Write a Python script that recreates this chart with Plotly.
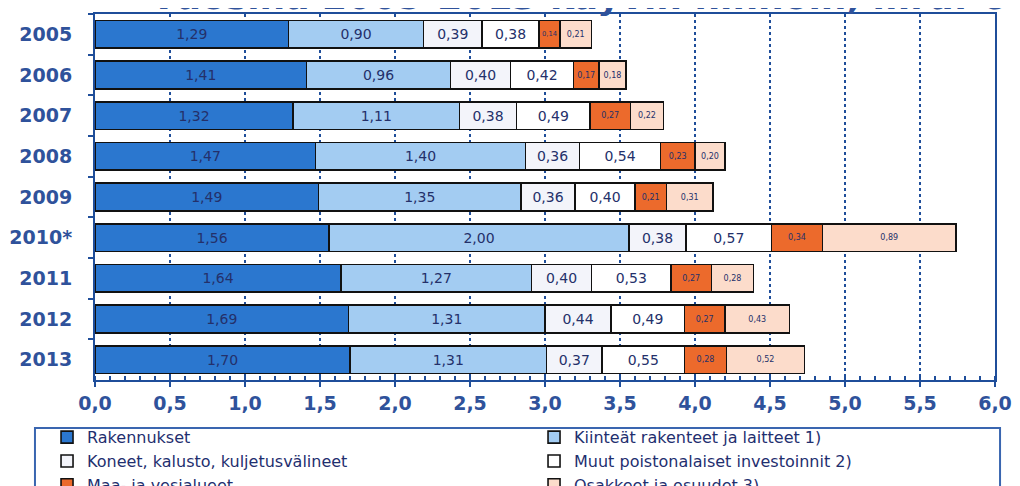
import plotly.graph_objects as go

years = ["2005", "2006", "2007", "2008", "2009", "2010*", "2011", "2012", "2013"]
rakennukset = [1.29, 1.41, 1.32, 1.47, 1.49, 1.56, 1.64, 1.69, 1.70]
kiinteat = [0.90, 0.96, 1.11, 1.40, 1.35, 2.00, 1.27, 1.31, 1.31]
koneet = [0.39, 0.40, 0.38, 0.36, 0.36, 0.38, 0.40, 0.44, 0.37]
muut = [0.38, 0.42, 0.49, 0.54, 0.40, 0.57, 0.53, 0.49, 0.55]
maa = [0.14, 0.17, 0.27, 0.23, 0.21, 0.34, 0.27, 0.27, 0.28]
osakkeet = [0.21, 0.18, 0.22, 0.20, 0.31, 0.89, 0.28, 0.43, 0.52]

series = [
    ("Rakennukset", rakennukset, "#2B77CF", 14),
    ("Kiinteät rakenteet ja laitteet 1)", kiinteat, "#A3CCF2", 14),
    ("Koneet, kalusto, kuljetusvälineet", koneet, "#F3F4FA", 14),
    ("Muut poistonalaiset investoinnit 2)", muut, "#FFFFFF", 14),
    ("Maa- ja vesialueet", maa, "#EC6A2C", 8),
    ("Osakkeet ja osuudet 3)", osakkeet, "#FCDCCB", 8),
]

navy = "#2F529B"
fig = go.Figure()
for name, vals, color, fs in series:
    fig.add_trace(go.Bar(
        name=name, y=years, x=vals, orientation="h",
        marker=dict(color=color, line=dict(color="#111111", width=1.6)),
        texttemplate="%{x:.2f}", textposition="inside", insidetextanchor="middle",
        textangle=0,
        insidetextfont=dict(family="DejaVu Sans", size=fs, color="#24306A"),
    ))

fig.update_layout(
    width=1012, height=478,
    barmode="stack", bargap=0.32,
    separators=", ",
    plot_bgcolor="white", paper_bgcolor="white",
    margin=dict(l=87, r=25, t=6, b=106, autoexpand=False),
    font=dict(family="DejaVu Sans", color=navy),
    showlegend=True,
    legend=dict(
        orientation="h", x=-0.0533, y=-0.110, xanchor="left", yanchor="top",
        entrywidth=442, entrywidthmode="pixels", traceorder="normal",
        borderwidth=0, bgcolor="rgba(0,0,0,0)",
        font=dict(family="DejaVu Sans", size=16, color="#1F2F6F"),
        tracegroupgap=0, itemwidth=30,
    ),
    shapes=[dict(
        type="rect", xref="paper", yref="paper",
        x0=-0.0667, x1=1.0056, y0=-0.131, y1=-0.5,
        line=dict(color="#3A66B0", width=2), fillcolor="rgba(0,0,0,0)", layer="above",
    )],
    annotations=[dict(
        text="vuosina 2005-2013 käyvin hinnoin, mrd. €",
        xref="paper", yref="paper", x=0.537, y=0.986, xanchor="center", yanchor="bottom",
        showarrow=False, font=dict(family="DejaVu Sans", size=36, color=navy, weight="bold"),
    )],
)

fig.update_xaxes(
    range=[0, 6], dtick=0.5, tickformat=".1f",
    showgrid=True, gridcolor="#1F4E9A", griddash="dot", gridwidth=1.5,
    showline=True, linecolor="#1F4E9A", linewidth=2, mirror=True,
    ticks="outside", ticklen=5, tickcolor="#1F4E9A", tickwidth=2,
    minor=dict(dtick=0.1, ticks="inside", ticklen=4, tickcolor="#1F4E9A", showgrid=False),
    tickfont=dict(family="DejaVu Sans", size=19, color=navy, weight="bold"),
    zeroline=False,
)
fig.update_yaxes(
    autorange="reversed", type="category",
    showline=True, linecolor="#1F4E9A", linewidth=2, mirror=True,
    ticks="outside", tickson="boundaries", ticklen=5, tickcolor="#1F4E9A", tickwidth=2,
    tickfont=dict(family="DejaVu Sans", size=19, color=navy, weight="bold"),
    showgrid=False, ticklabelstandoff=17,
)

fig.write_html("out.html")
